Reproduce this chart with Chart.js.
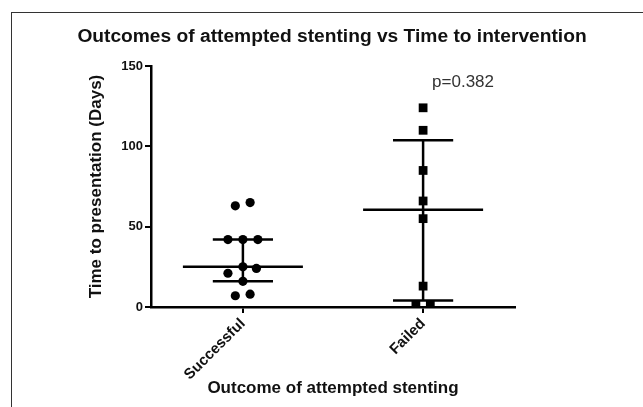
<!DOCTYPE html>
<html>
<head>
<meta charset="utf-8">
<script src="https://cdn.jsdelivr.net/npm/chart.js@4/dist/chart.umd.min.js"></script>
<style>
  html, body { margin: 0; padding: 0; background: #fff; }
  .wrap { position: relative; width: 643px; height: 407px; overflow: hidden; }
  .frame { position: absolute; left: 11px; top: 12px; width: 700px; height: 500px;
           border-left: 1.5px solid #333; border-top: 1.5px solid #333; }
  canvas { position: absolute; left: 0; top: 0; }
</style>
</head>
<body>
<div class="wrap">
  <div class="frame"></div>
  <canvas id="chart" width="643" height="407"></canvas>
</div>
<script>
// Groups on the x axis
const groups = ['Successful', 'Failed']
const groupPos = [1, 2]

// Time to presentation (days)
const successfulDays   = [63, 65, 42, 42, 42, 25, 24, 21, 16, 7, 8]
const successfulJitter = [-0.042, 0.04, -0.083, 0, 0.083, 0, 0.075, -0.083, 0, -0.042, 0.04]
const failedDays   = [124, 110, 85, 66, 55, 13, 1, 1]
const failedJitter = [0, 0, 0, 0, 0, 0, -0.04, 0.04]

const yTicks = [0, 50, 100, 150]
const pValueLabel = 'p=0.382'

const FONT = '"Liberation Sans", Arial, sans-serif'

// Prism style quantile, position (n+1)p
function quantile(values, p) {
  const s = [...values].sort((a, b) => a - b)
  const pos = (s.length + 1) * p
  const lo = Math.floor(pos)
  if (lo < 1) return s[0]
  if (lo >= s.length) return s[s.length - 1]
  return s[lo - 1] + (pos - lo) * (s[lo] - s[lo - 1])
}

function segment(x1, y1, x2, y2) {
  return {
    type: 'scatter',
    data: [{x: x1, y: y1}, {x: x2, y: y2}],
    showLine: true,
    borderColor: '#000',
    borderWidth: 2.5,
    pointRadius: 0,
    order: 1
  }
}

// median line + interquartile whisker for one group
function summary(values, x) {
  const med = quantile(values, 0.5)
  const q1 = quantile(values, 0.25)
  const q3 = quantile(values, 0.75)
  return [
    segment(x - 0.333, med, x + 0.333, med),
    segment(x, q1, x, q3),
    segment(x - 0.167, q1, x + 0.167, q1),
    segment(x - 0.167, q3, x + 0.167, q3)
  ]
}

const datasets = [
  {
    label: groups[0],
    data: successfulDays.map((v, i) => ({x: groupPos[0] + successfulJitter[i], y: v})),
    pointStyle: 'circle',
    pointRadius: 4.6,
    backgroundColor: '#000',
    borderColor: '#000',
    borderWidth: 0,
    order: 0
  },
  {
    label: groups[1],
    data: failedDays.map((v, i) => ({x: groupPos[1] + failedJitter[i], y: v})),
    pointStyle: 'rect',
    pointRadius: 6.2,
    backgroundColor: '#000',
    borderColor: '#000',
    borderWidth: 0,
    order: 0
  },
  ...summary(successfulDays, groupPos[0]),
  ...summary(failedDays, groupPos[1])
]

// p value written above the Failed column
const pValuePlugin = {
  id: 'pValue',
  afterDraw(chart) {
    const {ctx, scales} = chart
    ctx.save()
    ctx.font = '17px ' + FONT
    ctx.fillStyle = '#333'
    ctx.textAlign = 'left'
    ctx.textBaseline = 'middle'
    ctx.fillText(pValueLabel, scales.x.getPixelForValue(groupPos[1]) + 9, scales.y.getPixelForValue(140))
    ctx.restore()
  }
}

new Chart(document.getElementById('chart'), {
  type: 'scatter',
  data: { datasets },
  options: {
    responsive: false,
    animation: false,
    layout: { padding: { left: 21, right: 0, top: 0, bottom: 0 } },
    plugins: {
      legend: { display: false },
      tooltip: { enabled: false },
      title: {
        display: true,
        text: 'Outcomes of attempted stenting vs Time to intervention',
        color: '#111',
        font: { family: FONT, size: 19.2, weight: 'bold' },
        padding: { top: 25, bottom: 18 }
      }
    },
    scales: {
      x: {
        type: 'linear',
        min: 0.49,
        max: 2.51,
        afterFit: s => { s.height = 100 },
        afterBuildTicks: s => { s.ticks = groupPos.map(v => ({value: v})) },
        ticks: {
          callback: v => groups[groupPos.indexOf(v)] || '',
          minRotation: 45,
          maxRotation: 45,
          color: '#111',
          padding: 2,
          font: { family: FONT, size: 15, weight: 'bold' }
        },
        grid: { drawOnChartArea: false, color: '#000', lineWidth: 2, tickLength: 6 },
        border: { color: '#000', width: 2.5 },
        title: {
          display: true,
          text: 'Outcome of attempted stenting',
          color: '#111',
          font: { family: FONT, size: 17, weight: 'bold' },
          padding: { top: 0, bottom: 8 }
        }
      },
      y: {
        min: 0,
        max: 150,
        afterFit: s => { s.width = 130 },
        afterBuildTicks: s => { s.ticks = yTicks.map(v => ({value: v})) },
        ticks: {
          color: '#111',
          padding: 2,
          font: { family: FONT, size: 13, weight: 'bold' }
        },
        grid: { drawOnChartArea: false, color: '#000', lineWidth: 2, tickLength: 6 },
        border: { color: '#000', width: 2.5 },
        title: {
          display: true,
          text: 'Time to presentation (Days)',
          color: '#111',
          font: { family: FONT, size: 17, weight: 'bold' },
          padding: { top: 65, bottom: 0 }
        }
      },
      // empty space on the right, keeps the title centred on the whole figure
      spacer: {
        type: 'linear',
        position: 'right',
        afterFit: s => { s.width = 128 },
        grid: { display: false },
        border: { display: false },
        ticks: { display: false }
      }
    }
  },
  plugins: [pValuePlugin]
})
</script>
</body>
</html>
